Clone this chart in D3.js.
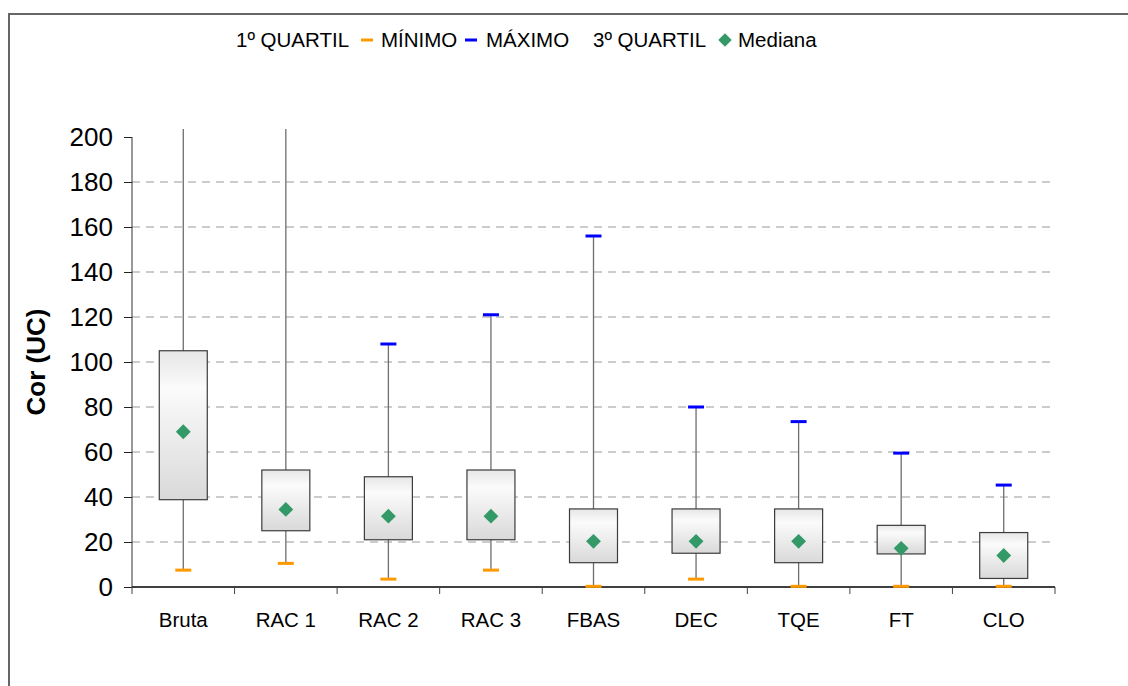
<!DOCTYPE html>
<html><head><meta charset="utf-8">
<script src="https://cdn.jsdelivr.net/npm/d3@7"></script>
<style>body{margin:0;background:#fff}svg{display:block;font-family:Arial,"Liberation Sans",sans-serif}</style>
</head><body><svg id="c" width="1128" height="686"></svg>
<script>
const categories = ["Bruta","RAC 1","RAC 2","RAC 3","FBAS","DEC","TQE","FT","CLO"];
const minimo   = [7.5, 10.5, 3.5, 7.5, 0.3, 3.5, 0.3, 0.3, 0.3];
const quartil1 = [38.8, 25, 21, 21, 10.8, 15, 10.8, 14.7, 3.8];
const mediana  = [69, 34.5, 31.5, 31.5, 20.3, 20.3, 20.3, 17.2, 14];
const quartil3 = [105, 52, 49, 52, 34.7, 34.7, 34.7, 27.4, 24.2];
const maximo   = [260, 240, 108, 121, 156, 80, 73.5, 59.5, 45.3];
const yTicks   = [0,20,40,60,80,100,120,140,160,180,200];

const svg = d3.select("#c");
const defs = svg.append("defs");
const g = defs.append("linearGradient").attr("id","bx").attr("x1",0).attr("y1",0).attr("x2",0).attr("y2",1);
g.append("stop").attr("offset","0%").attr("stop-color","#e6e6e6");
g.append("stop").attr("offset","25%").attr("stop-color","#fbfbfb");
g.append("stop").attr("offset","100%").attr("stop-color","#d9d9d9");
defs.append("clipPath").attr("id","clip").append("rect").attr("x",120).attr("y",129).attr("width",960).attr("height",470);

// outer frame
svg.append("rect").attr("x",9).attr("y",14).attr("width",1140).attr("height",700)
  .attr("fill","none").attr("stroke","#666").attr("stroke-width",2);

const x0 = 132, x1 = 1055, yTop = 137, yBot = 587;
const x = d3.scaleBand().domain(categories).range([x0,x1]).padding(0);
const y = d3.scaleLinear().domain([0,200]).range([yBot,yTop]);

// gridlines
svg.append("g").selectAll("line").data(yTicks.filter(d=>d>0 && d<200)).join("line")
  .attr("x1",x0).attr("x2",x1).attr("y1",d=>y(d)).attr("y2",d=>y(d))
  .attr("stroke","#999").attr("stroke-width",1).attr("stroke-dasharray","8,6");

// y axis
const ya = svg.append("g").attr("transform",`translate(${x0},0)`)
  .call(d3.axisLeft(y).tickValues(yTicks).tickSize(8).tickPadding(11));
ya.select(".domain").attr("stroke","#333").attr("d",`M0,${yTop}V${yBot}`);
ya.selectAll(".tick line").attr("stroke","#222");
ya.selectAll("text").attr("font-size",26).attr("fill","#000").attr("font-family","Arial,'Liberation Sans',sans-serif");

// x axis
const xa = svg.append("g").attr("transform",`translate(0,${yBot})`);
xa.append("line").attr("x1",x0).attr("x2",x1).attr("stroke","#000").attr("stroke-width",1.5);
xa.selectAll("line.t").data(categories.map(c=>x(c)).concat([x1])).join("line").attr("class","t")
  .attr("x1",d=>d).attr("x2",d=>d).attr("y1",0).attr("y2",7).attr("stroke","#444");
xa.selectAll("text").data(categories).join("text")
  .attr("x",d=>x(d)+x.bandwidth()/2).attr("y",40).attr("text-anchor","middle")
  .attr("font-size",20.5).attr("fill","#000").text(d=>d);

// title
svg.append("text").attr("transform","translate(45,362) rotate(-90)").attr("text-anchor","middle")
  .attr("font-size",26).attr("font-weight","bold").text("Cor (UC)");

const bw = 48, cw = 16;
const data = categories.map((c,i)=>({c,min:minimo[i],q1:quartil1[i],med:mediana[i],q3:quartil3[i],max:maximo[i]}));
const pl = svg.append("g").attr("clip-path","url(#clip)");
const cx = d=>x(d.c)+x.bandwidth()/2;
// whiskers
pl.selectAll("line.w").data(data).join("line").attr("class","w")
  .attr("x1",cx).attr("x2",cx).attr("y1",d=>y(d.min)).attr("y2",d=>y(Math.min(d.max,210)))
  .attr("stroke","#6e6e6e").attr("stroke-width",1.3);
// boxes
pl.selectAll("rect.b").data(data).join("rect").attr("class","b")
  .attr("x",d=>cx(d)-bw/2).attr("width",bw).attr("y",d=>y(d.q3)).attr("height",d=>y(d.q1)-y(d.q3))
  .attr("fill","url(#bx)").attr("stroke","#3c3c3c").attr("stroke-width",1.2);
// caps
pl.selectAll("line.mn").data(data).join("line").attr("class","mn")
  .attr("x1",d=>cx(d)-cw/2).attr("x2",d=>cx(d)+cw/2).attr("y1",d=>y(d.min)).attr("y2",d=>y(d.min))
  .attr("stroke","#ff9900").attr("stroke-width",3);
pl.selectAll("line.mx").data(data.filter(d=>d.max<=203)).join("line").attr("class","mx")
  .attr("x1",d=>cx(d)-cw/2).attr("x2",d=>cx(d)+cw/2).attr("y1",d=>y(d.max)).attr("y2",d=>y(d.max))
  .attr("stroke","#0000ff").attr("stroke-width",3);
// medians
pl.selectAll("path.md").data(data).join("path").attr("class","md")
  .attr("d", d3.symbol().type(d3.symbolSquare).size(110))
  .attr("transform",d=>`translate(${cx(d)},${y(d.med)}) rotate(45)`)
  .attr("fill","#339966");

// legend
const lg = svg.append("g").attr("font-size",20.5).attr("fill","#000");
lg.append("text").attr("x",236).attr("y",47).text("1º QUARTIL");
lg.append("line").attr("x1",361).attr("x2",373).attr("y1",40).attr("y2",40).attr("stroke","#ff9900").attr("stroke-width",3);
lg.append("text").attr("x",381).attr("y",47).text("MÍNIMO");
lg.append("line").attr("x1",465).attr("x2",477).attr("y1",40).attr("y2",40).attr("stroke","#0000ff").attr("stroke-width",3);
lg.append("text").attr("x",486).attr("y",47).text("MÁXIMO");
lg.append("text").attr("x",593).attr("y",47).text("3º QUARTIL");
lg.append("path").attr("d",d3.symbol().type(d3.symbolSquare).size(90)).attr("transform","translate(725,40) rotate(45)").attr("fill","#339966");
lg.append("text").attr("x",738).attr("y",47).text("Mediana");
</script></body></html>
